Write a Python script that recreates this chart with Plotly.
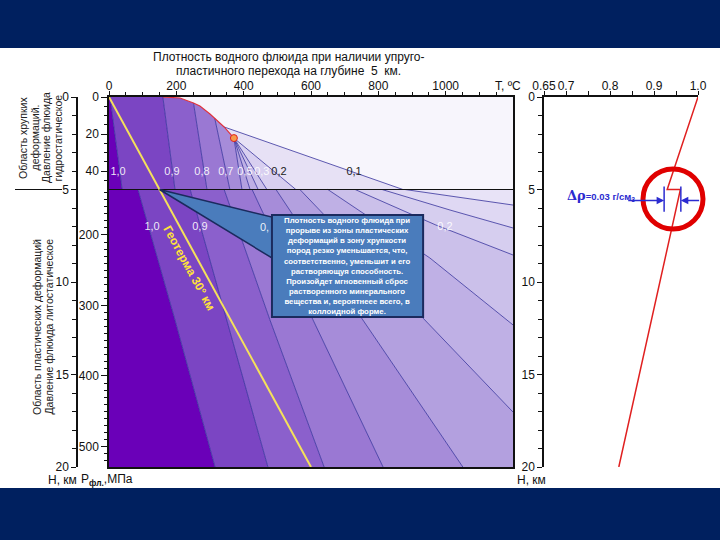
import plotly.graph_objects as go

# ---------------- data ----------------
T_range = [0, 1200]
T_tick_vals = [0, 200, 400, 600, 800, 1000]
T_minor_vals = [50, 100, 150, 250, 300, 350, 450, 500, 550, 650, 700, 750,
                850, 900, 950, 1050, 1100, 1150]
H_tick_vals = [0, 5, 10, 15, 20]
H_minor_vals = [1, 2, 3, 4, 6, 7, 8, 9, 11, 12, 13, 14, 16, 17, 18, 19]

# fluid pressure scale (MPa): hydrostatic above 5 km, lithostatic below
P_hydro_labels = [0, 20, 40]
P_hydro_minor = [5, 10, 15, 25, 30, 35, 45]
P_lith_labels = [200, 300, 400, 500]
P_lith_minor = [p for p in range(140, 530, 10) if p not in (200, 300, 400, 500)]
hydro_grad = 10.0      # MPa per km
lith_grad = 26.24      # MPa per km
lith_offset = 4.3      # MPa

# saturation (liquid-vapour) curve, brittle zone, T in °C, H in km
sat_T = [160, 211, 251, 270, 300, 314, 324, 342, 353, 371]
sat_H = [0.00, 0.05, 0.32, 0.49, 0.92, 1.14, 1.30, 1.62, 1.84, 2.22]
crit_T = [371]
crit_H = [2.22]

# isochores in the brittle (hydrostatic) zone, 0-5 km
up_rho = [1.0, 0.9, 0.8, 0.7, 0.6, 0.5, 0.4, 0.3, 0.2, 0.1]
up_iso_T = [[3, 39], [160, 196], [251, 291], [314, 359], [371, 395],
            [371, 419], [371, 443], [371, 469], [371, 555], [342, 725, 873]]
up_iso_H = [[0, 5], [0, 5], [0.32, 5], [1.14, 5], [2.22, 5],
            [2.22, 5], [2.22, 5], [2.22, 5], [2.22, 5], [1.62, 4.05, 5]]
up_iso_sat = [None, 0, 2, 5, 9, 9, 9, 9, 9, 7]
up_fill = ['#6a00b8', '#7b45c3', '#8b60cc', '#9a78d3', '#a68cd9', '#b2a0df',
           '#bfb0e5', '#cbc0ea', '#d8cff0', '#e7e1f5', '#f7f5fc']

# isochores in the plastic (lithostatic) zone, 5-20 km
low_rho = [1.0, 0.9, 0.8, 0.7, 0.6, 0.5, 0.4, 0.3, 0.2, 0.1]
low_iso_T = [[86, 196, 315], [241, 350, 472], [342, 478, 639], [425, 606, 814],
             [496, 754, 1051], [567, 939, 1200], [650, 953, 1200],
             [731, 971, 1200], [811, 1013, 1200], [879, 1200]]
low_iso_H = [[5, 12.05, 20], [5, 12.05, 20], [5, 12.05, 20], [5, 12.05, 20],
             [5, 12.05, 20], [5, 12.05, 17.03], [5, 8.70, 12.32],
             [5, 6.92, 8.54], [5, 6.11, 7.08], [5, 5.84]]
low_fill = ['#6a00b8', '#7b45c3', '#8b60cc', '#9a78d3', '#a68cd9', '#b3a0df',
            '#bfb0e5', '#cbc0ea', '#d6ceef', '#dfd8f3', '#e8e3f7']

# contour labels
up_lab_text = ['1,0', '0,9', '0,8', '0,7', '0,5', '0,3', '0,2', '0,1']
up_lab_T = [27, 187, 276, 347, 404, 454, 505, 728]
up_lab_H = [4.05] * 8
up_lab_col = ['rgba(255,255,255,0.9)'] * 6 + ['#222222', '#222222']
low_lab_text = ['1,0', '0,9', '0,2']
low_lab_T = [128, 270, 998]
low_lab_H = [7.03] * 3
low_lab_partial = '0,'          # "0,8" label, mostly hidden by the callout
low_lab_partial_T = 463
low_lab_partial_H = 7.03

# geotherm 30 °C/km
geo_T = [0, 600]
geo_H = [0, 20]

# density profile (right panel)
prof_rho = [1.0, 0.93, 0.96, 0.82]
prof_H = [0, 5, 5, 20]
drho_bars = [0.923, 0.961]

box_lines = [
    'Плотность водного флюида при',
    'прорыве из зоны пластических',
    'деформаций в зону хрупкости',
    'пород резко уменьшается, что,',
    'соответственно, уменьшит и его',
    'растворяющуя способность.',
    'Произойдет мгновенный сброс',
    'растворенного минерального',
    'вещества и, вероятнеее всего, в',
    'коллоидной форме.',
]
upper_zone_lines = ['Область хрупких', 'деформаций.', 'Давление флюида', 'гидростатическое']
lower_zone_lines = ['Область пластических деформаций', 'Давление флюида литостатическое']

# ---------------- figure ----------------
FONT = 'Liberation Sans, Arial, sans-serif'
W, HP = 720, 540
px = lambda v: v / W
py = lambda v: 1 - v / HP

fig = go.Figure()


def sat_path(frm, to):
    if frm is None or to is None or frm == to:
        return []
    if frm > to:
        return list(range(frm - 1, to, -1))
    return list(range(frm + 1, to))


def add_poly(T, H, color):
    fig.add_trace(go.Scatter(x=T, y=H, mode='lines', fill='toself', fillcolor=color,
                             line=dict(width=0, color=color), hoverinfo='skip',
                             showlegend=False))

# upper polygons
n = len(up_rho)
add_poly([0] + up_iso_T[0] + [0], [0] + up_iso_H[0] + [5], up_fill[0])
for i in range(n - 1):
    idx = sat_path(up_iso_sat[i + 1], up_iso_sat[i])
    T = up_iso_T[i] + up_iso_T[i + 1][::-1] + [sat_T[k] for k in idx]
    Hh = up_iso_H[i] + up_iso_H[i + 1][::-1] + [sat_H[k] for k in idx]
    add_poly(T, Hh, up_fill[i + 1])
s_last = up_iso_sat[-1]
T = sat_T[:s_last + 1] + up_iso_T[-1][1:] + [T_range[1], T_range[1]]
Hh = sat_H[:s_last + 1] + up_iso_H[-1][1:] + [5, 0]
add_poly(T, Hh, up_fill[-1])

# lower polygons
def on_bottom(h):
    return h[-1] >= 19.99

add_poly(low_iso_T[0] + [0, 0], low_iso_H[0] + [20, 5], low_fill[0])
for i in range(len(low_rho) - 1):
    corner_T, corner_H = [], []
    if on_bottom(low_iso_H[i]) and not on_bottom(low_iso_H[i + 1]):
        corner_T, corner_H = [T_range[1]], [20]
    T = low_iso_T[i] + corner_T + low_iso_T[i + 1][::-1]
    Hh = low_iso_H[i] + corner_H + low_iso_H[i + 1][::-1]
    add_poly(T, Hh, low_fill[i + 1])
add_poly(low_iso_T[-1] + [T_range[1]], low_iso_H[-1] + [5], low_fill[-1])

# isochore lines
for T, Hh in list(zip(up_iso_T, up_iso_H)) + list(zip(low_iso_T, low_iso_H)):
    fig.add_trace(go.Scatter(x=T, y=Hh, mode='lines', line=dict(color='#35309c', width=0.8),
                             hoverinfo='skip', showlegend=False))

# 5 km boundary
fig.add_trace(go.Scatter(x=T_range, y=[5, 5], mode='lines', line=dict(color='#111111', width=1.2),
                         hoverinfo='skip', showlegend=False))
# saturation curve and critical point
fig.add_trace(go.Scatter(x=sat_T, y=sat_H, mode='lines', line=dict(color='#e0303a', width=1.1),
                         hoverinfo='skip', showlegend=False))
fig.add_trace(go.Scatter(x=crit_T, y=crit_H, mode='markers',
                         marker=dict(size=7, color='#f59a4a', line=dict(color='#e02020', width=1)),
                         hoverinfo='skip', showlegend=False))
# geotherm
fig.add_trace(go.Scatter(x=geo_T, y=geo_H, mode='lines', line=dict(color='#f5e15a', width=2),
                         hoverinfo='skip', showlegend=False))
# contour labels
fig.add_trace(go.Scatter(x=up_lab_T, y=up_lab_H, mode='text', text=up_lab_text,
                         textfont=dict(family=FONT, size=11, color=up_lab_col),
                         hoverinfo='skip', showlegend=False))
fig.add_trace(go.Scatter(x=low_lab_T, y=low_lab_H, mode='text', text=low_lab_text,
                         textfont=dict(family=FONT, size=11, color='rgba(255,255,255,0.9)'),
                         hoverinfo='skip', showlegend=False))
# invisible trace for outer depth axis
fig.add_trace(go.Scatter(x=[0], y=[0], xaxis='x', yaxis='y2', mode='markers',
                         marker=dict(opacity=0), hoverinfo='skip', showlegend=False))

# right panel: density profile
fig.add_trace(go.Scatter(x=prof_rho, y=prof_H, xaxis='x2', yaxis='y3', mode='lines',
                         line=dict(color='#e02020', width=1.5), hoverinfo='skip', showlegend=False))
for b in drho_bars:
    fig.add_trace(go.Scatter(x=[b, b], y=[4.84, 6.2], xaxis='x2', yaxis='y3', mode='lines',
                             line=dict(color='#2b2bd0', width=1.5), hoverinfo='skip',
                             showlegend=False))

# pressure tick positions on the depth scale
P_tick_pos = [p / hydro_grad for p in P_hydro_labels] + \
             [(p - lith_offset) / lith_grad for p in P_lith_labels]
P_tick_txt = [str(p) for p in P_hydro_labels + P_lith_labels]
P_minor_pos = [p / hydro_grad for p in P_hydro_minor] + \
              [(p - lith_offset) / lith_grad for p in P_lith_minor]

tickfont = dict(family=FONT, size=12, color='#111111')
dom_y = [1 - 467 / HP, 1 - 97 / HP]
common = dict(showgrid=False, zeroline=False, automargin=False, tickangle=0,
              tickfont=tickfont, tickcolor='#111', linecolor='#111', linewidth=1.5,
              showline=True, ticks='outside', tickmode='array')

fig.update_layout(
    width=W, height=HP, margin=dict(l=0, r=0, t=0, b=0, pad=0, autoexpand=False),
    autosize=False,
    paper_bgcolor='white', plot_bgcolor='white', showlegend=False, hovermode=False,
    xaxis=dict(domain=[px(109), px(513)], range=T_range, side='top', anchor='y',
               tickvals=T_tick_vals, ticktext=[str(v) for v in T_tick_vals],
               ticklen=4, tickwidth=1, ticklabelstandoff=-4,
               minor=dict(tickmode='array', tickvals=T_minor_vals, ticks='outside', ticklen=3,
                          tickcolor='#111'),
               mirror=True, **common),
    yaxis=dict(domain=dom_y, range=[20, 0], anchor='x',
               tickvals=P_tick_pos, ticktext=P_tick_txt,
               ticklen=6, tickwidth=1,
               minor=dict(tickmode='array', tickvals=P_minor_pos, ticks='outside', ticklen=3,
                          tickcolor='#111'),
               mirror=True, **common),
    yaxis2=dict(overlaying='y', anchor='free', position=px(77), side='left', range=[20, 0],
                tickvals=H_tick_vals, ticktext=[str(v) for v in H_tick_vals],
                ticklen=5,
                minor=dict(tickmode='array', tickvals=H_minor_vals, ticks='outside', ticklen=4,
                           tickcolor='#111'),
                **common),
    xaxis2=dict(domain=[px(544), px(698)], range=[0.65, 1.0], side='top', anchor='y3',
                tickvals=[0.65, 0.7, 0.8, 0.9, 1.0],
                ticktext=['0.65', '0.7', '0.8', '0.9', '1.0'],
                ticklen=4, ticklabelstandoff=-4,
                minor=dict(tickmode='array', tickvals=[0.75, 0.85, 0.95], ticks='outside',
                           ticklen=4, tickcolor='#111'),
                **common),
    yaxis3=dict(domain=dom_y, range=[20, 0], anchor='x2', side='left',
                tickvals=H_tick_vals, ticktext=[str(v) for v in H_tick_vals],
                ticklen=5,
                minor=dict(tickmode='array', tickvals=H_minor_vals, ticks='outside', ticklen=4,
                           tickcolor='#111'),
                **common),
)

navy = '#00205f'
shapes = [
    dict(type='rect', xref='paper', yref='paper', x0=0, x1=1, y0=py(48), y1=1,
         fillcolor=navy, line=dict(width=0), layer='above'),
    dict(type='rect', xref='paper', yref='paper', x0=0, x1=1, y0=0, y1=py(488),
         fillcolor=navy, line=dict(width=0), layer='above'),
    dict(type='line', xref='paper', yref='y', x0=px(15), x1=px(62), y0=5, y1=5,
         line=dict(color='#111', width=1.2)),
    # callout pointer and box
    dict(type='path', xref='x', yref='y', path='M 150,5 L 484,6.49 L 484,8.70 Z',
         fillcolor='#4a7cbc', line=dict(color='#1b2a5e', width=1.5), layer='above'),
    dict(type='rect', xref='x', yref='y', x0=484, x1=933, y0=6.38, y1=11.89,
         fillcolor='#4a7cbc', line=dict(color='#1b2a5e', width=2), layer='above'),
    # red highlight circle
    dict(type='circle', xref='paper', yref='paper', x0=px(643), x1=px(703),
         y0=py(229), y1=py(169), line=dict(color='#e00000', width=5), layer='above'),
]
fig.update_layout(shapes=shapes)


def lab(x, y, text, size=12, color='#111', **kw):
    d = dict(xref='paper', yref='paper', x=px(x), y=py(y), showarrow=False, text=text,
             xanchor='center', yanchor='middle', font=dict(family=FONT, size=size, color=color))
    d.update(kw)
    return d


ann = [
    lab(288, 57, 'Плотность водного флюида при наличии упруго-'),
    lab(288, 71, 'пластичного перехода на глубине  5  км.'),
    lab(508, 86, 'T, ºC'),
    lab(63, 480, 'H, км'),
    lab(107, 480, 'P<sub><b>фл.</b></sub>,МПа'),
    lab(531, 480, 'H, км'),
    dict(xref='x', yref='y', x=low_lab_partial_T, y=low_lab_partial_H, showarrow=False,
         text=low_lab_partial, xanchor='center', yanchor='middle',
         font=dict(family=FONT, size=11, color='rgba(255,255,255,0.9)')),
    dict(xref='x', yref='y', x=238, y=9.24, showarrow=False, textangle=61.4,
         xanchor='center', yanchor='middle',
         text='<b>Геотерма 30° км</b>', font=dict(family=FONT, size=12, color='#ffe23a')),
    dict(xref='x', yref='y', x=708, y=9.13, showarrow=False, xanchor='center',
         yanchor='middle', align='center',
         text='<b>' + '<br>'.join(box_lines) + '</b>',
         font=dict(family=FONT, size=7.8, color='white')),
    dict(xref='x2', yref='y3', x=0.7795, y=5.3, showarrow=False, xanchor='center',
         yanchor='middle',
         text='<b><span style="font-family:DejaVu Serif;font-size:13px">Δρ</span>=0.03 г/см<sub>3</sub></b>',
         font=dict(family=FONT, size=9.5, color='#2b2bd0')),
    dict(xref='x2', yref='y3', axref='x2', ayref='y3', x=drho_bars[0], y=5.6,
         ax=0.838, ay=5.6, showarrow=True, arrowhead=2, arrowsize=1, arrowwidth=1.5,
         arrowcolor='#2b2bd0', text=''),
    dict(xref='x2', yref='y3', axref='x2', ayref='y3', x=drho_bars[1], y=5.6,
         ax=1.006, ay=5.6, showarrow=True, arrowhead=2, arrowsize=1, arrowwidth=1.5,
         arrowcolor='#2b2bd0', text=''),
]
for k, t in enumerate(upper_zone_lines):
    ann.append(lab(23 + 11.5 * k, 138, t, size=10.5, color='#222', textangle=-90))
for k, t in enumerate(lower_zone_lines):
    ann.append(lab(37 + 11.5 * k, 327, t, size=10.5, color='#222', textangle=-90))
fig.update_layout(annotations=ann)

fig.write_html('out.html')
